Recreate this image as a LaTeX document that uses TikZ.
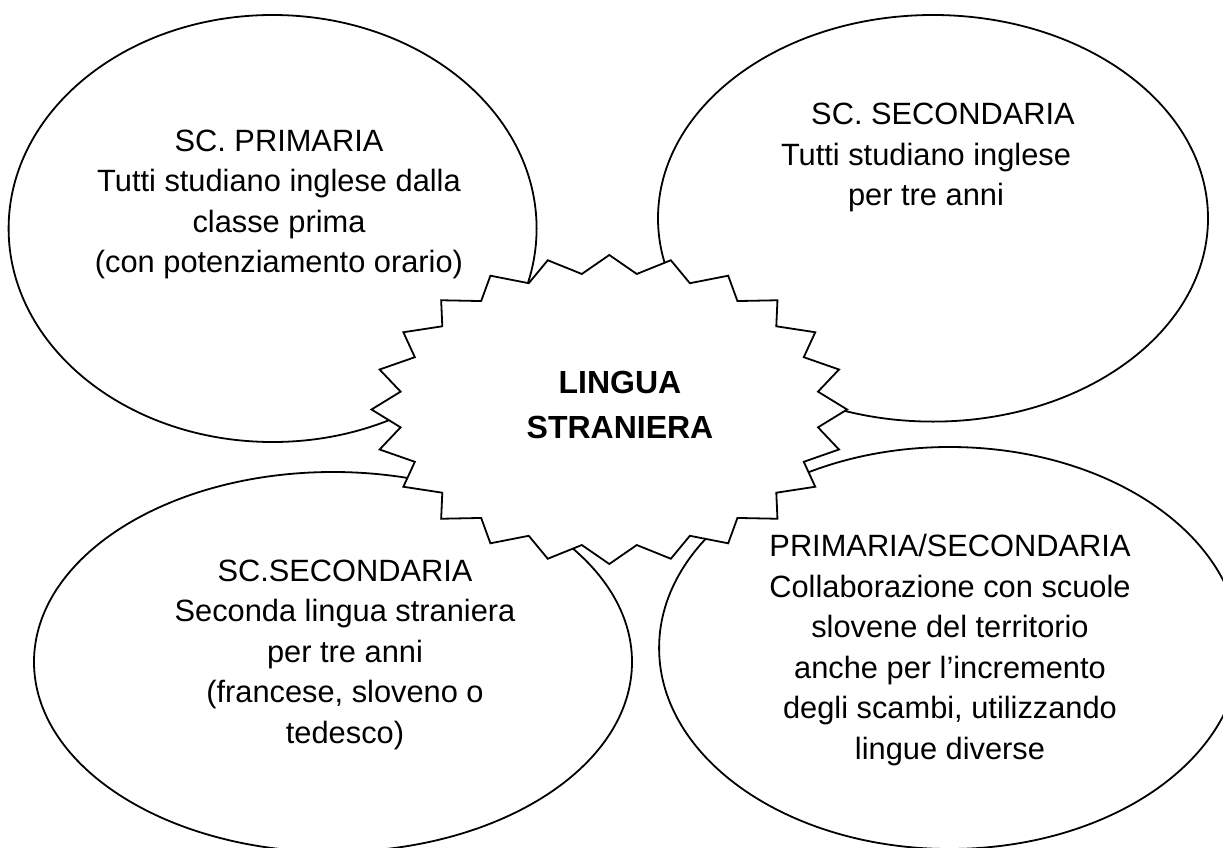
\documentclass[tikz,border=0pt]{standalone}
\usepackage{fontspec}
\setmainfont{Liberation Sans}
\usetikzlibrary{shapes.geometric}
\begin{document}
\begin{tikzpicture}[x=1pt,y=-1pt,
  bubble/.style={ellipse,draw,line width=1.8pt,inner sep=0pt,outer sep=0pt},
  bubbletext/.style={anchor=north,inner sep=0pt,align=center,font=\fontsize{30.8}{40.5}\selectfont},
  burst/.style={draw,fill=white,line width=1.8pt,line join=miter},
  titletext/.style={anchor=north,inner sep=0pt,align=center,font=\bfseries\fontsize{32}{45}\selectfont}]
\useasboundingbox (0,0) rectangle (1223,848);
\clip (0,0) rectangle (1223,848);
% bubbles
\node[bubble,minimum width=528pt,minimum height=427pt] (e1) at (272.6,228.5) {};
\node[bubble,minimum width=550pt,minimum height=406.6pt] (e2) at (933,218.3) {};
\node[bubble,minimum width=598pt,minimum height=380pt] (e3) at (333,662) {};
\node[bubble,minimum width=581pt,minimum height=402pt] (e4) at (949.6,648) {};
% central starburst
\begin{scope}[shift={(609.3,409.5)}]
\draw[burst] (0:237.8 and 154.5)
  \foreach \k in {1,...,23} { -- ({\k*15-7.5}:210.5 and 136.7) -- ({\k*15}:237.8 and 154.5) }
  -- (352.5:210.5 and 136.7) -- cycle;
\end{scope}
\node[titletext] (c) at (620,370.5) {LINGUA\\STRANIERA};
% texts
\node[bubbletext] (t1) at (279,129.7) {SC. PRIMARIA\\Tutti studiano inglese dalla\\classe prima\\(con potenziamento orario)};
\node[bubbletext] (t2) at (926,103) {\hspace*{34pt}SC. SECONDARIA\\Tutti studiano inglese\\per tre anni};
\node[bubbletext] (t3) at (345,559.7) {SC.SECONDARIA\\Seconda lingua straniera\\per tre anni\\(francese, sloveno o\\tedesco)};
\node[bubbletext] (t4) at (950,534.3) {PRIMARIA/SECONDARIA\\Collaborazione con scuole\\slovene del territorio\\anche per l’incremento\\degli scambi, utilizzando\\lingue diverse};
\end{tikzpicture}
\end{document}
